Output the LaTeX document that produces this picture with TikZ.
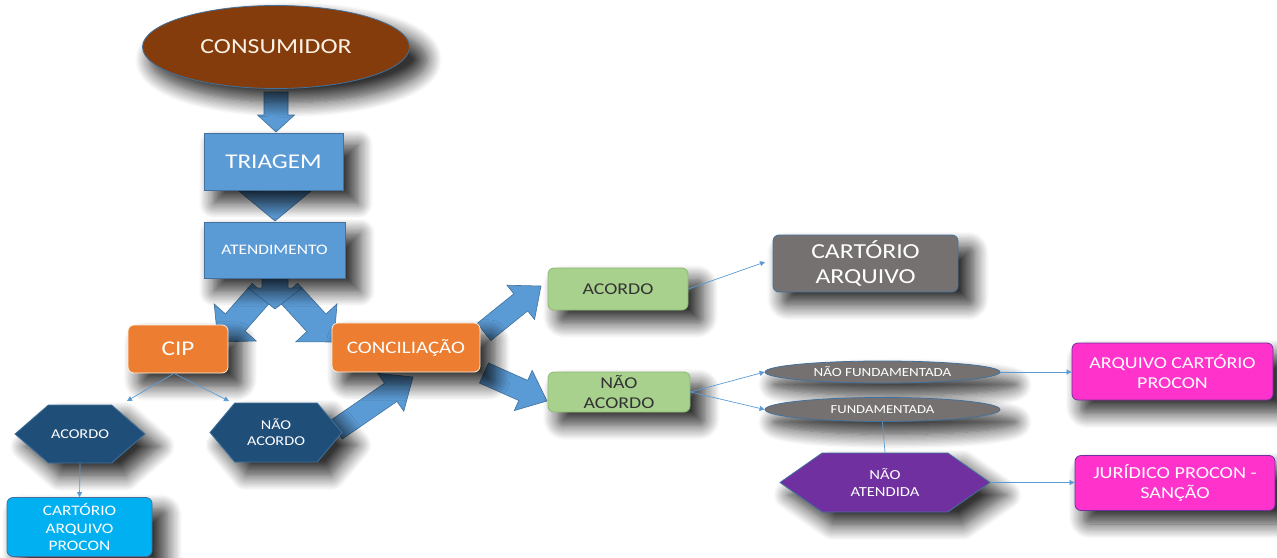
\documentclass[tikz,border=0pt]{standalone}
\usepackage{fontspec}
\setmainfont{Carlito}[FakeStretch=1.2]
\usetikzlibrary{shapes.geometric,shapes.symbols,arrows.meta,shadows.blur,calc}
\definecolor{cBrown}{HTML}{843C0C}
\definecolor{cBlue}{HTML}{5B9BD5}
\definecolor{cBlueD}{HTML}{41719C}
\definecolor{cOrange}{HTML}{ED7D31}
\definecolor{cNavy}{HTML}{1F4E79}
\definecolor{cCyan}{HTML}{00B0F0}
\definecolor{cGreen}{HTML}{A9D18E}
\definecolor{cGreenD}{HTML}{8DB870}
\definecolor{cGray}{HTML}{767171}
\definecolor{cPurple}{HTML}{7030A0}
\definecolor{cPink}{HTML}{FF33CC}
\definecolor{cCream}{HTML}{FBF1E2}
\makeatletter
\newcommand\blockarrow[5]{%
  \pgfpointdiff{\pgfpointanchor{#1}{center}}{\pgfpointanchor{#2}{center}}%
  \pgfmathveclen{\pgf@x}{\pgf@y}\let\ba@len\pgfmathresult
  \pgfmathanglebetweenpoints{\pgfpointanchor{#1}{center}}{\pgfpointanchor{#2}{center}}\let\ba@ang\pgfmathresult
  \begin{scope}[shift={(#1)}, rotate=\ba@ang, x=1pt, y=1pt]
  \filldraw[barrow] (0,-#3/2) -- (\ba@len-#5,-#3/2) -- (\ba@len-#5,-#4/2) -- (\ba@len,0) -- (\ba@len-#5,#4/2) -- (\ba@len-#5,#3/2) -- (0,#3/2) -- cycle;
  \end{scope}}
\makeatother
\newcommand\fs[1]{\fontsize{#1}{1.2\dimexpr#1pt\relax}\selectfont}
\tikzset{
  barrow/.style={fill=cBlue, draw=cBlueD, line width=0.6pt, line join=miter},
  shd/.style={blur shadow={shadow xshift=12pt, shadow yshift=-12pt, shadow blur radius=14pt, shadow blur steps=12, shadow opacity=80, shadow scale=1.04}},
  box/.style={shd, rectangle, inner sep=0pt, align=center, text=white, line width=0.8pt},
  rbox/.style={box, rounded corners=6pt},
  hexa/.style={shd, signal, signal to=east and west, inner sep=0pt, align=center, text=white, line width=0.8pt},
  oval/.style={shd, ellipse, inner sep=0pt, align=center, text=white, line width=0.8pt},
  thin/.style={draw=cBlue, line width=0.7pt, -{Triangle[length=5pt,width=5pt]}},
}
\begin{document}
\begin{tikzpicture}[x=1pt, y=-1pt]
\useasboundingbox (0,0) rectangle (1277,557);
% block arrow endpoints
\coordinate (b1s) at (276,92);  \coordinate (b1e) at (276,132);
\coordinate (b2s) at (275,180); \coordinate (b2e) at (275,221);
\coordinate (b3s) at (262,292); \coordinate (b3e) at (218,342);
\coordinate (b4s) at (288,292); \coordinate (b4e) at (334,342);
\coordinate (b5s) at (275,270); \coordinate (b5e) at (275,309);
\coordinate (b6s) at (336,430); \coordinate (b6e) at (413,377);
\coordinate (b7s) at (484,332); \coordinate (b7e) at (541,286);
\coordinate (b8s) at (484,373); \coordinate (b8e) at (547,401);
\blockarrow{b1s}{b1e}{24}{37}{17}
\blockarrow{b2s}{b2e}{30}{72}{30}
\blockarrow{b3s}{b3e}{26}{56}{26}
\blockarrow{b4s}{b4e}{26}{56}{26}
\blockarrow{b5s}{b5e}{26}{54}{21}
\blockarrow{b6s}{b6e}{22}{46}{27}
\blockarrow{b7s}{b7e}{22}{44}{26}
\blockarrow{b8s}{b8e}{22}{44}{26}
% nodes
\node[oval, fill=cBrown, draw=cBlueD, minimum width=267pt, minimum height=83pt, text=cCream, font=\fs{21.5}] (cons) at (276,47) {CONSUMIDOR};
\node[box, fill=cBlue, draw=cBlueD, minimum width=139pt, minimum height=57pt, font=\fs{21}] (tri) at (273.5,161.5) {TRIAGEM};
\node[box, fill=cBlue, draw=cBlueD, minimum width=141pt, minimum height=56pt, font=\fs{14.5}] (ate) at (274.5,250) {ATENDIMENTO};
\node[rbox, fill=cOrange, draw=cCream, minimum width=100pt, minimum height=48pt, font=\fs{21}] (cip) at (178,349) {CIP};
\node[rbox, fill=cOrange, draw=cCream, minimum width=148pt, minimum height=49pt, font=\fs{17.5}] (con) at (406,347.5) {CONCILIAÇÃO};
\node[hexa, fill=cNavy, draw=cBlueD, signal pointer angle=82, minimum width=130pt, minimum height=58pt, font=\fs{13.5}] (hA) at (80,434) {ACORDO};
\node[hexa, fill=cNavy, draw=cBlueD, signal pointer angle=100, minimum width=132pt, minimum height=59pt, font=\fs{13.5}] (hNA) at (276,432.5) {NÃO\\ACORDO};
\node[rbox, fill=cCyan, draw=cBlueD, minimum width=145pt, minimum height=59pt, font=\fs{14.5}] (cap) at (79.5,527) {CARTÓRIO\\ARQUIVO\\PROCON};
\node[rbox, fill=cGreen, draw=cGreenD, minimum width=140pt, minimum height=42pt, text=black!80, font=\fs{16.5}] (gA) at (618,289) {ACORDO};
\node[rbox, fill=cGreen, draw=cGreenD, minimum width=142pt, minimum height=40pt, text=black!80, font=\fs{16.5}] (gNA) at (619,392) {NÃO\\ACORDO};
\node[rbox, fill=cGray, draw=cBlueD, minimum width=185pt, minimum height=57pt, font=\fs{21.4}] (ca) at (865.5,263.5) {CARTÓRIO\\ARQUIVO};
\node[oval, fill=cGray, draw=cBlueD, minimum width=235pt, minimum height=22pt, font=\fs{12.5}] (nf) at (882.5,372) {NÃO FUNDAMENTADA};
\node[oval, fill=cGray, draw=cBlueD, minimum width=235pt, minimum height=24pt, font=\fs{12.2}] (fu) at (882.5,409.5) {FUNDAMENTADA};
\node[hexa, fill=cPurple, draw=cBlueD, signal pointer angle=70, minimum width=210pt, minimum height=59pt, font=\fs{13.8}] (nat) at (885,482.5) {NÃO\\ATENDIDA};
\node[rbox, fill=cPink, draw=cPurple, minimum width=201pt, minimum height=57pt, font=\fs{16.6}] (acp) at (1172.5,371.5) {ARQUIVO CARTÓRIO\\PROCON};
\node[rbox, fill=cPink, draw=cPurple, minimum width=200pt, minimum height=55pt, font=\fs{16.8}] (jps) at (1175,483) {JURÍDICO PROCON -\\SANÇÃO};
% thin connectors
\coordinate (cA) at (127,401);
\coordinate (cNA) at (229,401);
\coordinate (caIn) at (765,262);
\draw[thin] ([xshift=-4pt]cip.south) -- (cA);
\draw[thin] ([xshift=-4pt]cip.south) -- (cNA);
\draw[thin] (hA.south) -- (cap.north);
\draw[thin] (gA.east) -- (caIn);
\draw[thin] (gNA.east) -- (nf.west);
\draw[thin] (gNA.east) -- (fu.west);
\draw[draw=cBlue, line width=0.7pt] (fu.south) -- (nat.north);
\draw[thin] (nf.east) -- (nf.east -| acp.west);
\draw[thin] (nat.east) -- (nat.east -| jps.west);
\end{tikzpicture}
\end{document}
